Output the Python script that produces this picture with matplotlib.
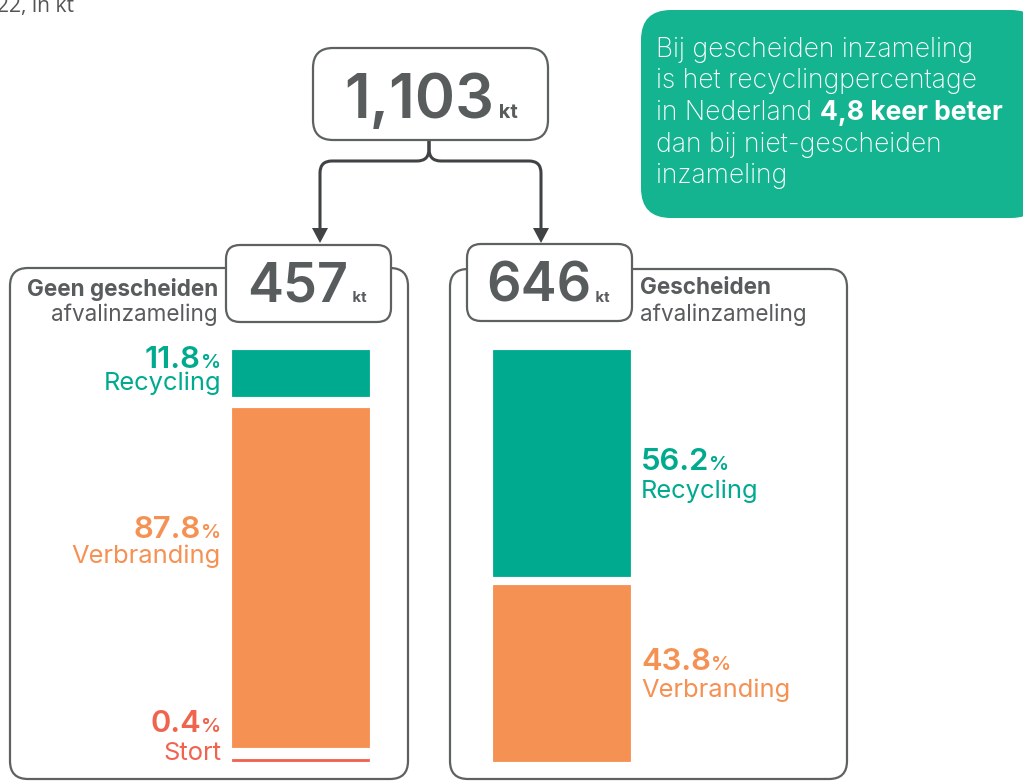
import matplotlib
matplotlib.use('Agg')
import matplotlib.pyplot as plt
from matplotlib.patches import FancyBboxPatch, Polygon, PathPatch
from matplotlib.path import Path

# ---------------- data ----------------
categories = ['Recycling', 'Verbranding', 'Stort']
total_kt = 1103
group_titles = ['Geen gescheiden', 'Gescheiden']
group_kt = [457, 646]
geen_pct = [11.8, 87.8, 0.4]
gescheiden_pct = [56.2, 43.8]
unit = 'kt'
subtitle = 'afvalinzameling'
header_fragment = '22, in kt'
callout_lines = [
    [('Bij gescheiden inzameling', 'light')],
    [('is het recyclingpercentage', 'light')],
    [('in Nederland ', 'light'), ('4,8 keer beter', 'bold')],
    [('dan bij niet-gescheiden', 'light')],
    [('inzameling', 'light')],
]

# ---------------- style ----------------
FONT = ['Inter', 'DejaVu Sans']
GREEN = '#00aa8f'
ORANGE = '#f59153'
RED = '#f0644f'
GRAY = '#585c5d'
EDGE = '#5d6162'
ARROW = '#3f4344'
CALLOUT = '#14b491'
cat_colors = [GREEN, ORANGE, RED]

W, H = 1023, 782
fig = plt.figure(figsize=(W / 100, H / 100), dpi=100)
ax = fig.add_axes([0, 0, 1, 1])
ax.set_xlim(0, W)
ax.set_ylim(H, 0)
ax.axis('off')
renderer = fig.canvas.get_renderer()


def run(x, y, pieces, ha='left'):
    texts, widths = [], []
    for s, size, weight, color in pieces:
        t = ax.text(0, y, s, fontsize=size * 0.72, fontweight=weight, color=color,
                    family=FONT, ha='left', va='baseline', zorder=10)
        widths.append(t.get_window_extent(renderer).width)
        texts.append(t)
    total = sum(widths)
    start = x if ha == 'left' else (x - total if ha == 'right' else x - total / 2)
    cx = start
    for t, w in zip(texts, widths):
        t.set_x(cx)
        cx += w
    return texts


def rbox(x, y, w, h, r, fc='white', ec=EDGE, lw=1.6, z=2):
    p = FancyBboxPatch((x, y), w, h, boxstyle=f'round,pad=0,rounding_size={r}',
                       fc=fc, ec=ec, lw=lw, zorder=z)
    ax.add_patch(p)
    return p


# header fragment (clipped at the top edge, as in the original)
ax.text(-3, 12, header_fragment, fontsize=21 * 0.72, color='#555555',
        family=['Open Sans', 'DejaVu Sans'], ha='left', va='baseline')

# callout
rbox(641, 10, 400, 208, 30, fc=CALLOUT, ec='none', lw=0, z=1)
for i, line in enumerate(callout_lines):
    run(656, 57 + i * 31.5, [(s, 26.5, w, 'white') for s, w in line])

# panels
rbox(10, 268, 398, 511, 18, z=1)
rbox(450, 269, 397, 510, 18, z=1)

# total box
rbox(313, 48, 235, 92, 20, z=3)
run(431, 118, [(f'{total_kt:,}', 61, 'semibold', GRAY), (' ' + unit, 20, 'bold', GRAY)], ha='center')

# group boxes
box_pos = [(226, 245), (467, 244)]
for (bx, by), kt in zip(box_pos, group_kt):
    rbox(bx, by, 165, 77, 14, z=3)
    run(bx + 81, 302, [(f'{kt}', 54, 'semibold', GRAY), (' ' + unit, 15, 'bold', GRAY)], ha='center')

# brace + arrows
codes = [Path.MOVETO, Path.LINETO, Path.CURVE3, Path.CURVE3, Path.LINETO, Path.CURVE3, Path.CURVE3, Path.LINETO]
branches = [
    [(429, 140), (429, 149), (429, 161), (417, 161), (332, 161), (320, 161), (320, 173), (320, 231)],
    [(429, 140), (429, 149), (429, 161), (441, 161), (529, 161), (541, 161), (541, 173), (541, 231)],
]
for verts in branches:
    ax.add_patch(PathPatch(Path(verts, codes), fc='none', ec=ARROW, lw=2.2, zorder=2, capstyle='butt'))
    tip_x = verts[-1][0]
    ax.add_patch(Polygon([(tip_x - 8, 228), (tip_x + 8, 228), (tip_x, 243)], closed=True,
                         fc=ARROW, ec='none', zorder=2))

# headers of panels
run(218, 296, [(group_titles[0], 22.5, 'bold', GRAY)], ha='right')
run(218, 321, [(subtitle, 22.5, 'normal', GRAY)], ha='right')
run(640, 294, [(group_titles[1], 22.5, 'bold', GRAY)], ha='left')
run(640, 321, [(subtitle, 22.5, 'normal', GRAY)], ha='left')

# bars
TOP, BOTTOM = 350, 761


def stacked(xc, pct, gap):
    scale = (BOTTOM - TOP - gap * (len(pct) - 1)) / 100.0
    bottoms, heights = [], []
    y = TOP
    for p in pct:
        h = p * scale
        bottoms.append(y)
        heights.append(h)
        y += h + gap
    ax.bar([xc] * len(pct), heights, bottom=bottoms, width=137,
           color=cat_colors[:len(pct)], edgecolor=cat_colors[:len(pct)],
           linewidth=0.6, zorder=4)
    return bottoms, heights


stacked(300.5, geen_pct, 12)
stacked(561.5, gescheiden_pct, 9)

# labels
left_label_y = [(368, 390), (538, 563), (732, 760)]
for (y1, y2), p, cat, col in zip(left_label_y, geen_pct, categories, cat_colors):
    run(221, y1, [(f'{p}', 31, 'semibold', col), ('%', 20, 'semibold', col)], ha='right')
    run(221, y2, [(cat, 25.5, 'normal', col)], ha='right')

right_label_y = [(470, 498), (670, 697)]
for (y1, y2), p, cat, col in zip(right_label_y, gescheiden_pct, categories, cat_colors):
    run(641, y1, [(f'{p}', 31, 'semibold', col), ('%', 20, 'semibold', col)], ha='left')
    run(641, y2, [(cat, 25.5, 'normal', col)], ha='left')

fig.savefig('out.png', dpi=100)
